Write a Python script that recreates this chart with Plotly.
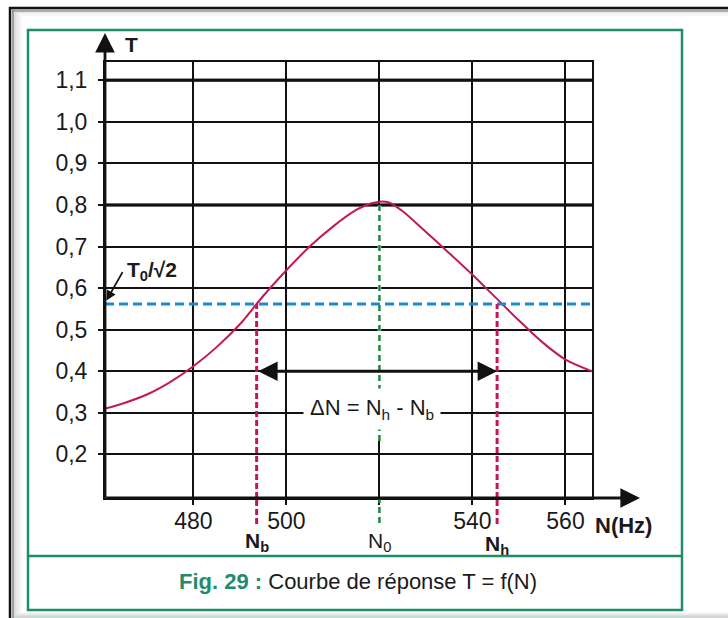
import plotly.graph_objects as go

# ---- data ----
N_vals = [461, 465, 470, 475, 480, 485, 490, 495, 500, 505, 510, 515, 518, 520, 522,
          525, 530, 535, 540, 545, 550, 555, 560, 565.7]
T_vals = [0.310, 0.323, 0.344, 0.374, 0.412, 0.458, 0.513, 0.581, 0.643, 0.700, 0.748,
          0.788, 0.803, 0.808, 0.806, 0.785, 0.735, 0.684, 0.632, 0.577, 0.522, 0.470,
          0.428, 0.400]
y_ticks = [0.2, 0.3, 0.4, 0.5, 0.6, 0.7, 0.8, 0.9, 1.0, 1.1]
x_ticks = [480, 500, 520, 540, 560]
x_ticktext = ["480", "500", "", "540", "560"]
N0 = 520
T0 = 0.808
Nb = 493.6
Nh = 545.3
T_half = 0.562
T_arrow = 0.40
T_label = 0.31
thick_rows = [1.1, 0.8]
x_range = [461, 565.7]
y_range = [0.095, 1.144]

W, H = 728, 618
def px(x): return x / W
def py(y): return 1 - y / H

FONT = "Liberation Sans, Arial, sans-serif"
GREEN = "#1f8c6b"
MAG = "#c2185b"
INK = "#1a1a1a"

fig = go.Figure()
fig.add_trace(go.Scatter(x=N_vals, y=T_vals, mode="lines",
                         line=dict(color=MAG, width=2, shape="spline", smoothing=0.8),
                         hoverinfo="skip", showlegend=False))

shapes = []
# background / frame
shapes.append(dict(type="rect", xref="paper", yref="paper", x0=px(12), x1=px(728), y0=py(618), y1=py(9),
                   fillcolor="#d4d4d4", line=dict(width=0), layer="below"))
for i, c in enumerate(["#dedede", "#e8e8e8", "#f1f1f1", "#f8f8f8"]):
    shapes.append(dict(type="rect", xref="paper", yref="paper", x0=px(14 + 2 * i), x1=px(728),
                       y0=py(616 - i), y1=py(10 + 1.5 * i), fillcolor=c, line=dict(width=0), layer="below"))
shapes.append(dict(type="rect", xref="paper", yref="paper", x0=px(22), x1=px(728), y0=py(612), y1=py(16),
                   fillcolor="white", line=dict(width=0), layer="below"))
shapes.append(dict(type="line", xref="paper", yref="paper", x0=px(10), x1=px(10), y0=py(618), y1=py(7),
                   line=dict(color="#111", width=2.5)))
shapes.append(dict(type="line", xref="paper", yref="paper", x0=px(13), x1=px(13), y0=py(618), y1=py(10),
                   line=dict(color="#666", width=1)))
shapes.append(dict(type="line", xref="paper", yref="paper", x0=px(9), x1=px(728), y0=py(8), y1=py(8),
                   line=dict(color="#111", width=2.5)))
shapes.append(dict(type="line", xref="paper", yref="paper", x0=px(12), x1=px(728), y0=py(11), y1=py(11),
                   line=dict(color="#777", width=1)))
shapes.append(dict(type="rect", xref="paper", yref="paper", x0=px(28), x1=px(682), y0=py(610), y1=py(30),
                   line=dict(color=GREEN, width=2.5), layer="below"))
shapes.append(dict(type="line", xref="paper", yref="paper", x0=px(28), x1=px(682), y0=py(556), y1=py(556),
                   line=dict(color=GREEN, width=2.5)))

# thicker grid rows
for r in thick_rows:
    shapes.append(dict(type="line", xref="x", yref="y", x0=x_range[0], x1=x_range[1], y0=r, y1=r,
                       line=dict(color="#3a3a3a", width=3.5), layer="below"))
# hide the 520 grid column under the N0 line
shapes.append(dict(type="line", xref="x", yref="y", x0=N0, x1=N0, y0=0.232, y1=T0 - 0.01,
                   line=dict(color="white", width=3.5)))
shapes.append(dict(type="line", xref="x", yref="y", x0=N0, x1=N0, y0=0.232, y1=T0,
                   line=dict(color="#1e8a3a", width=2.5, dash="6px,4px")))
shapes.append(dict(type="line", xref="x", yref="paper", x0=N0, x1=N0, y0=py(523), y1=py(499),
                   line=dict(color="#1e8a3a", width=2.5, dash="6px,4px")))
# half-power level
shapes.append(dict(type="line", xref="x", yref="y", x0=x_range[0], x1=x_range[1], y0=T_half, y1=T_half,
                   line=dict(color="#1a8ad4", width=3, dash="9px,5px")))
# Nb / Nh
for n in (Nb, Nh):
    shapes.append(dict(type="line", xref="x", yref="y", x0=n, x1=n, y0=y_range[0], y1=T_half,
                       line=dict(color=MAG, width=3, dash="6px,3px")))
    shapes.append(dict(type="line", xref="x", yref="paper", x0=n, x1=n, y0=py(524), y1=py(498),
                       line=dict(color=MAG, width=3, dash="6px,3px")))

def label(x, y, text, size, xref="paper", yref="paper", **kw):
    d = dict(xref=xref, yref=yref, x=x, y=y, text=text, showarrow=False,
             xanchor="center", yanchor="middle", font=dict(family=FONT, size=size, color=INK))
    d.update(kw)
    return d

ann = []
# axes arrows
ann.append(dict(xref="paper", yref="paper", x=px(105), y=py(33), ax=0, ay=466, axref="pixel", ayref="pixel",
                text="", showarrow=True, arrowhead=2, arrowsize=1.4, arrowwidth=2.8, arrowcolor="#111"))
ann.append(dict(xref="paper", yref="paper", x=px(640), y=py(498), ax=-536, ay=0, axref="pixel", ayref="pixel",
                text="", showarrow=True, arrowhead=2, arrowsize=1.4, arrowwidth=2.8, arrowcolor="#111"))
# double arrow
ann.append(dict(xref="x", yref="y", x=Nh, y=T_arrow, ax=Nb, ay=T_arrow, axref="x", ayref="y",
                text="", showarrow=True, arrowhead=2, arrowside="end+start", arrowsize=1.3,
                arrowwidth=3, arrowcolor="#111", standoff=0, startstandoff=0))
ann.append(label(518.5, T_label, "ΔN = N<sub>h</sub> - N<sub>b</sub>", 22, xref="x", yref="y",
                 bgcolor="white", borderpad=6))
# T0/sqrt2 label + arrow
ann.append(label(px(152), py(271), "<b>T<sub>0</sub>/√2</b>", 21))
ann.append(dict(xref="x", yref="y", x=x_range[0] + 0.3, y=T_half + 0.008, ax=17, ay=-30,
                axref="pixel", ayref="pixel", text="", showarrow=True, arrowhead=2, arrowsize=1.1,
                arrowwidth=1.8, arrowcolor="#111"))
# axis titles
ann.append(label(px(131), py(45), "<b>T</b>", 21))
ann.append(label(px(623), py(525), "<b>N(Hz)</b>", 22))
# N labels
for n, lab, yy in ((Nb, "<b>N<sub>b</sub></b>", 542), (N0, "N<sub>0</sub>", 542), (Nh, "<b>N<sub>h</sub></b>", 545)):
    ann.append(label(n, py(yy), lab, 21, xref="x", yref="paper"))
# caption
ann.append(label(px(357.5), py(581),
                 "<span style='color:%s'><b>Fig. 29 :</b></span> Courbe de réponse T = f(N)" % GREEN, 22))

fig.update_layout(
    width=W, height=H, margin=dict(l=0, r=0, t=0, b=0),
    paper_bgcolor="white", plot_bgcolor="white",
    separators=", ",
    showlegend=False,
    shapes=shapes, annotations=ann,
    xaxis=dict(domain=[px(105), px(592)], range=x_range, tickvals=x_ticks, ticktext=x_ticktext,
               showgrid=True, gridcolor="#111", gridwidth=2, zeroline=False,
               showline=True, mirror=True, linecolor="#111", linewidth=2,
               ticks="outside", ticklen=5, tickwidth=2, tickcolor="#111", ticklabelstandoff=-4,
               tickfont=dict(family=FONT, size=23, color=INK), fixedrange=True),
    yaxis=dict(domain=[py(498), py(62)], range=y_range, tickvals=y_ticks, tickformat=".1f",
               showgrid=True, gridcolor="#111", gridwidth=2, zeroline=False,
               showline=True, mirror=True, linecolor="#111", linewidth=2,
               ticks="outside", ticklen=5, tickwidth=2, tickcolor="#111", ticklabelstandoff=6,
               tickfont=dict(family=FONT, size=23, color=INK), fixedrange=True),
)

fig.write_html("out.html")
